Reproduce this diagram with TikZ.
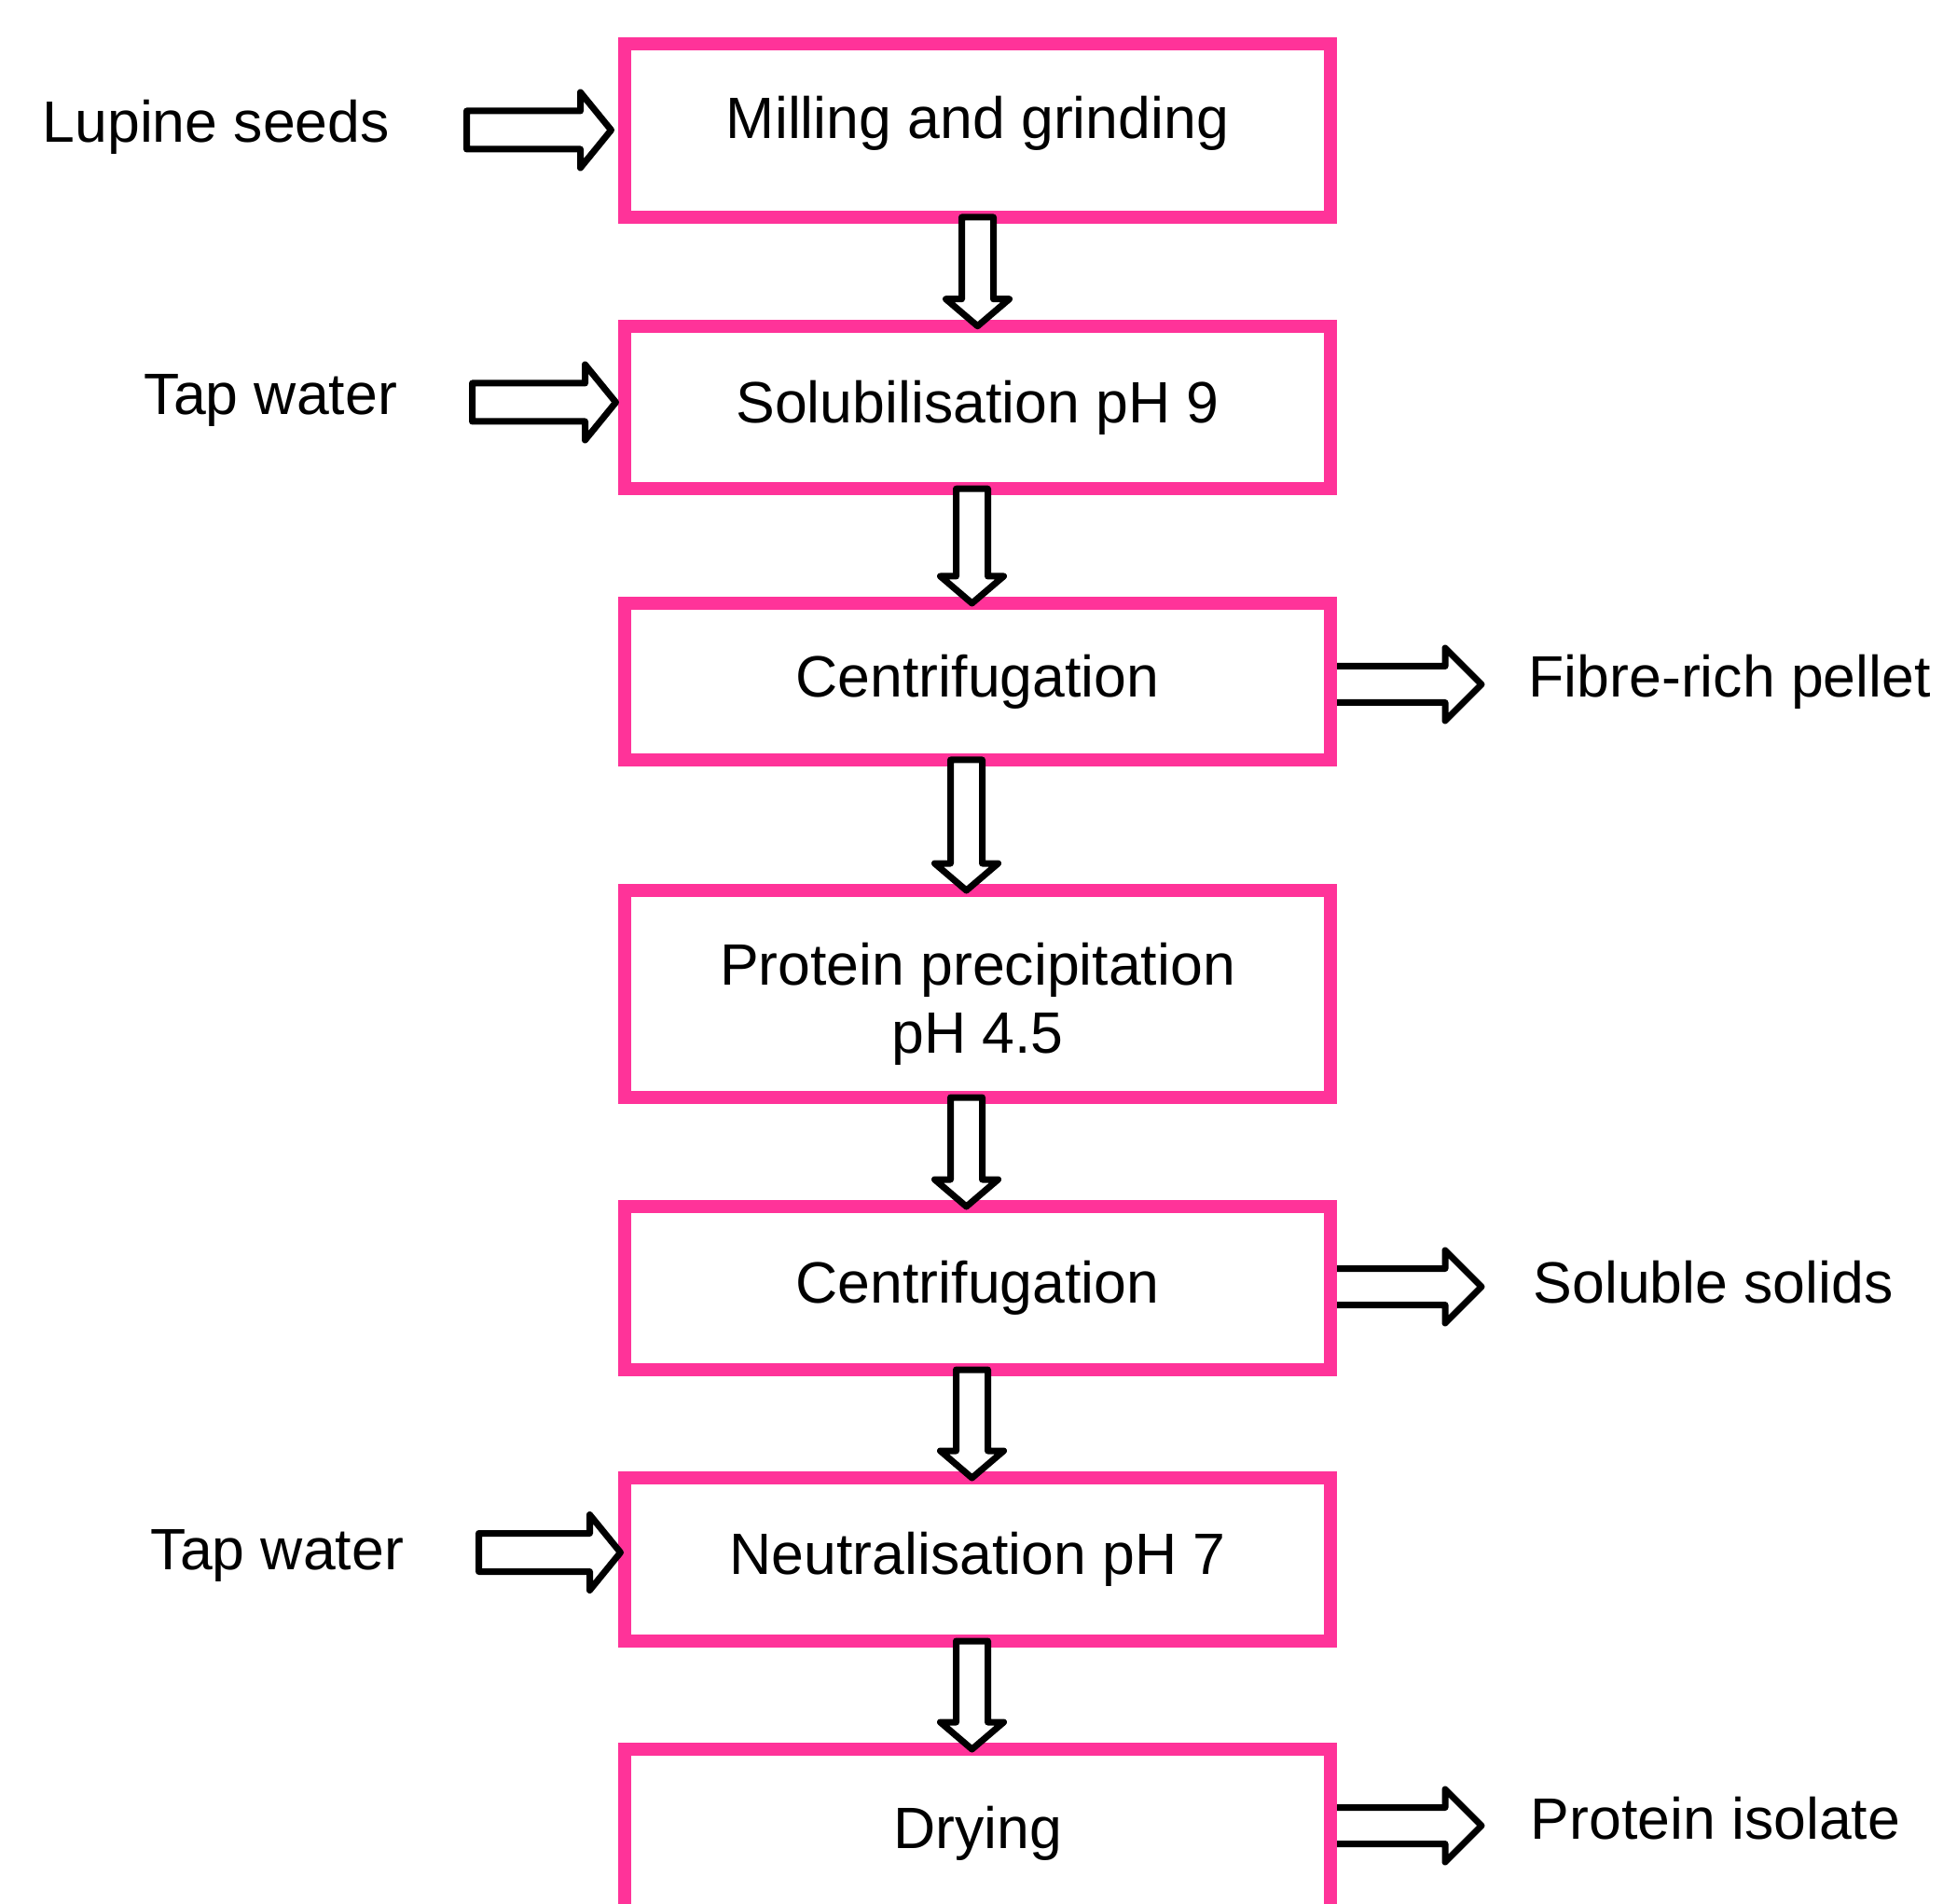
\documentclass[tikz,border=0pt]{standalone}
\usepackage{fontspec}
\setmainfont{Liberation Sans}
\usetikzlibrary{calc,backgrounds}
\definecolor{boxpink}{RGB}{255,51,153}

\begin{document}
\begin{tikzpicture}[
  font=\fontsize{17.8pt}{20.7pt}\selectfont,
  stepbox/.style={draw=boxpink, line width=1.4mm, minimum width=7.57cm, outer sep=0pt, align=center},
  sidetext/.style={anchor=base west, inner sep=0pt},
  blockarrow/.style n args={3}{draw=black, line width=0.7mm, line join=round, fill=white,
    to path={let \p1=(\tikztostart), \p2=(\tikztotarget) in
      ($(\p1)!#1!90:(\p2)$)
      -- ($(\p2)!#3!(\p1)!#1!-90:(\p1)$)
      -- ($(\p2)!#3!(\p1)!#2!-90:(\p1)$)
      -- (\p2)
      -- ($(\p2)!#3!(\p1)!#2!90:(\p1)$)
      -- ($(\p2)!#3!(\p1)!#1!90:(\p1)$)
      -- ($(\p1)!#1!-90:(\p2)$)
      -- cycle}},
  downarrow/.style={blockarrow={1.7mm}{3.4mm}{2.9mm}},
  inarrow/.style={blockarrow={2.05mm}{4.05mm}{3.3mm}},
  outarrow/.style={blockarrow={1.95mm}{3.9mm}{3.9mm}}
]

  \useasboundingbox (0,0) rectangle (20.99,-20.42);

  % process steps
  \node[stepbox, minimum height=1.86cm] (mill) at (10.485,-1.40) {\rule[-0.44em]{0pt}{0.44em}Milling and grinding};
  \node[stepbox, minimum height=1.745cm] (solub) at (10.485,-4.37) {Solubilisation pH 9};
  \node[stepbox, minimum height=1.68cm] (centri1) at (10.485,-7.31) {Centrifugation};
  \node[stepbox, minimum height=2.22cm] (precip) at (10.485,-10.66) {\rule{0pt}{1.08em}Protein precipitation\\pH 4.5};
  \node[stepbox, minimum height=1.75cm] (centri2) at (10.485,-13.815) {Centrifugation};
  \node[stepbox, minimum height=1.75cm] (neutral) at (10.485,-16.725) {Neutralisation pH 7};
  \node[stepbox, minimum height=1.80cm] (dry) at (10.485,-19.66) {Drying};

  % inputs and outputs
  \node[sidetext] (seeds) at (0.45,-1.53) {Lupine seeds};
  \node[sidetext] (water1) at (1.54,-4.45) {Tap water};
  \node[sidetext] (water2) at (1.61,-16.83) {Tap water};
  \node[sidetext] (pellet) at (16.39,-7.48) {Fibre-rich pellet};
  \node[sidetext] (solids) at (16.44,-13.97) {Soluble solids};
  \node[sidetext] (isolate) at (16.41,-19.72) {Protein isolate};

  \coordinate (seedsin) at (5.005,-1.395);
  \coordinate (water1in) at (5.065,-4.315);
  \coordinate (water2in) at (5.135,-16.65);
  \coordinate (pelletout) at (15.89,-7.34);
  \coordinate (solidsout) at (15.89,-13.80);
  \coordinate (isolateout) at (15.89,-19.58);

  \draw[inarrow] (seedsin) to ([xshift=-1.45mm]mill.west |- seedsin);
  \draw[inarrow] (water1in) to ([xshift=-0.95mm]solub.west |- water1in);
  \draw[inarrow] (water2in) to ([xshift=-0.45mm]neutral.west |- water2in);

  \begin{scope}[on background layer]
    \draw[outarrow] (centri1.east |- pelletout) to (pelletout);
    \draw[outarrow] (centri2.east |- solidsout) to (solidsout);
    \draw[outarrow] (dry.east |- isolateout) to (isolateout);
  \end{scope}

  % flow down
  \draw[downarrow] (mill.south) to (solub.north);
  \draw[downarrow] ([xshift=-0.6mm]solub.south) to ([xshift=-0.6mm]centri1.north);
  \draw[downarrow] ([xshift=-1.2mm]centri1.south) to ([xshift=-1.2mm]precip.north);
  \draw[downarrow] ([xshift=-1.2mm]precip.south) to ([xshift=-1.2mm]centri2.north);
  \draw[downarrow] ([xshift=-0.6mm]centri2.south) to ([xshift=-0.6mm]neutral.north);
  \draw[downarrow] ([xshift=-0.6mm]neutral.south) to ([xshift=-0.6mm]dry.north);

\end{tikzpicture}
\end{document}
